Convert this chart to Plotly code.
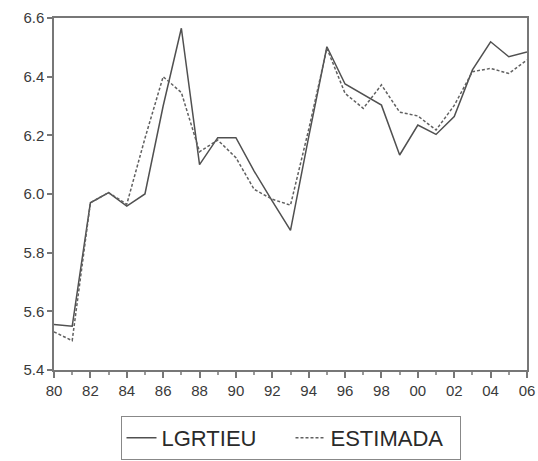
import plotly.graph_objects as go

years = list(range(1980, 2007))
lgrtieu = [5.555, 5.549, 5.970, 6.005, 5.959, 6.000, 6.300, 6.565, 6.100, 6.192,
           6.192, 6.078, 5.976, 5.876, 6.195, 6.502, 6.375, 6.338, 6.303, 6.133,
           6.235, 6.203, 6.264, 6.423, 6.519, 6.468, 6.484]
estimada = [5.530, 5.500, 5.970, 6.005, 5.965, 6.190, 6.400, 6.346, 6.144, 6.184,
            6.124, 6.016, 5.982, 5.962, 6.220, 6.497, 6.343, 6.292, 6.372, 6.279,
            6.266, 6.218, 6.302, 6.417, 6.428, 6.411, 6.457]
x_tickvals = list(range(1980, 2007, 2))
x_ticktext = ["80", "82", "84", "86", "88", "90", "92", "94", "96", "98",
              "00", "02", "04", "06"]
y_tickvals = [5.4, 5.6, 5.8, 6.0, 6.2, 6.4, 6.6]
y_ticktext = ["5.4", "5.6", "5.8", "6.0", "6.2", "6.4", "6.6"]

fig = go.Figure()
fig.add_trace(go.Scatter(x=years, y=lgrtieu, mode="lines", name="LGRTIEU",
                         line=dict(color="#505050", width=1.5)))
fig.add_trace(go.Scatter(x=years, y=estimada, mode="lines", name="ESTIMADA",
                         line=dict(color="#606060", width=1.5, dash="3px,2px")))

axis_common = dict(showline=True, mirror=True, linecolor="#777777", linewidth=1.5,
                   showgrid=False, zeroline=False, ticks="outside", automargin=False,
                   tickcolor="#777777",
                   tickfont=dict(family="Liberation Sans", size=15, color="#3a3a3a"))

fig.update_layout(
    template="none",
    width=538, height=461,
    margin=dict(l=54, r=11, t=18, b=91, autoexpand=False),
    plot_bgcolor="white", paper_bgcolor="white",
    xaxis=dict(range=[1980, 2006], tickvals=x_tickvals, ticktext=x_ticktext,
               ticklen=6, tickwidth=1.5,
               minor=dict(ticks="outside", ticklen=3, dtick=1, tick0=1980, tickcolor="#999999"),
               **axis_common),
    yaxis=dict(range=[5.4, 6.6], tickvals=y_tickvals, ticktext=y_ticktext,
               ticklen=5, tickwidth=1.5, **axis_common),
    showlegend=True,
    legend=dict(orientation="h", x=0.5, xanchor="center", y=-0.1307, yanchor="top",
                bordercolor="#888888", borderwidth=1, bgcolor="white",
                entrywidth=124,
                font=dict(family="Liberation Sans", size=22, color="#2a2a2a")),
)

fig.write_html("out.html", config={"displayModeBar": False},
               post_script="document.body.style.margin='0px';")
